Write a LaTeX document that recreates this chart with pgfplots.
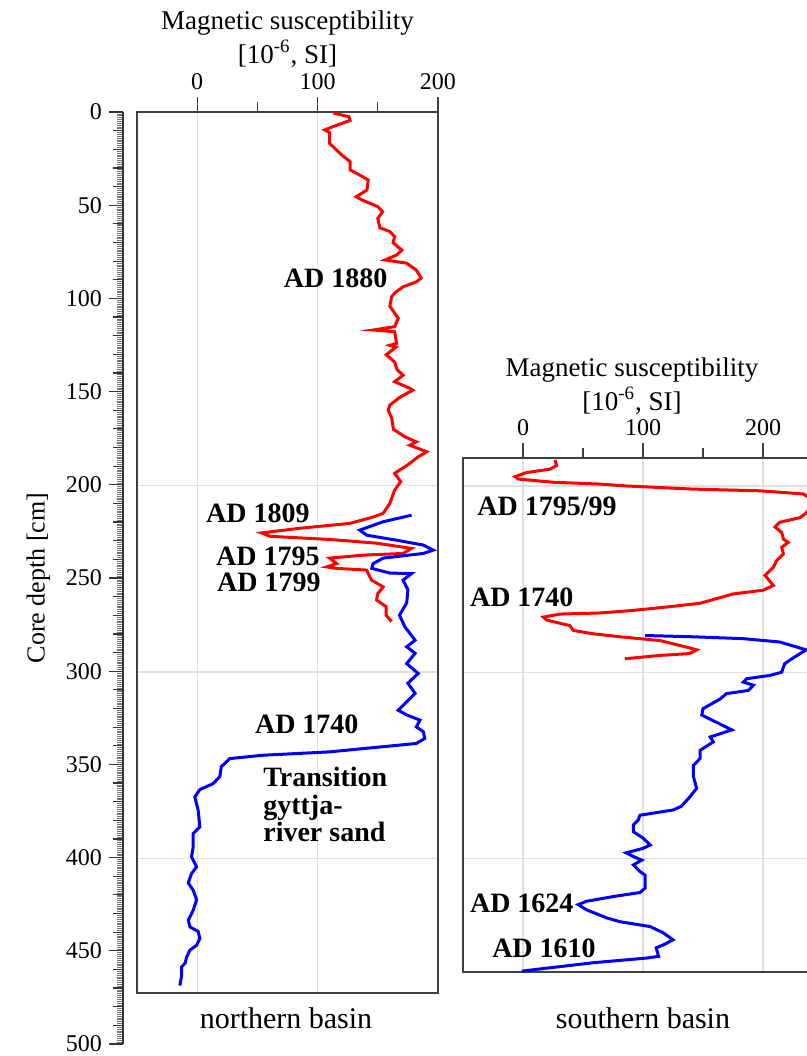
\documentclass[border=0pt]{standalone}
\usepackage{fontspec}
\setmainfont{Liberation Serif}
\usepackage{pgfplots}
\pgfplotsset{compat=1.18}
\pgfplotstableread{
v d
113 0.5
126 2.5
127 4.5
112 8
106 9.6
110 11
110 16.8
120 23
127 26.6
127 31
135 33.8
142 36.4
141 41.8
132 45.4
136.5 47
150 50.7
154 53.4
150 57
151.7 62
160 64
164 66.8
162.7 70
170 74
165.6 76.6
156 79.3
174 81
182 84.7
186 89
182 91
171 93.6
164 97
161.5 99
160 104
167 110.5
164 115
146 116.8
164 117.7
165.6 124
160 125
165 126
157 130
164 134
166 138
171 141
164 144.5
176.6 148
179 149
168 153
160 157
158.7 159.7
161.5 164
163 170
172.5 174
182 176.7
176.6 178.5
190.5 182
183 185
175 189
164 193.6
169 198
164 202.6
160 209.7
154.5 215
146 217
126.8 220.4
85.3 223
53.5 225.5
60.4 227.3
110 229
149 231
178 233.8
171 236.5
138 237.4
110 239
115.8 241.9
107.5 243.7
115.8 244.5
140.7 245.4
144.8 250.8
154.5 254.4
150 258
149 261.5
157 265
157 269.6
161.5 273
}\northred
\pgfplotstableread{
v d
178 216
154.5 219.5
135 224
140.7 226.7
165.6 229.4
187.8 232
196 234.7
187.8 236.5
154.5 239
146 242
145 244.5
160 247
178 247.3
171 250.8
175 256
174 263
168 269.6
172.5 275.8
181 283
174 286.5
181 290
174 295.5
183.6 300.8
175 306
181 311.5
174 316
167 320.5
174 323
185 325.8
182 329.4
187.8 332
189 335.6
182 338.3
110 342.8
54.8 344.6
27 346.4
20 350.8
18.8 356
13.3 359.8
2.2 363
-2 367
0.8 374
2.2 383
-3.3 386.5
-3.3 393.7
-4.7 399
-0.5 404.4
-4.7 408
-7.4 413
-3.3 417
-0.5 422
-3.3 427.6
-7.4 433
-6 436.6
0.8 439
2.2 442.8
-0.5 446.4
-6 449
-8.8 452.7
-10 456
-13 458
-13 463
-14.4 468
}\northblue
\pgfplotstableread{
v d
26.7 186
28 189
22.5 191
3 192.8
-6.7 195
-4 196.3
25 198
64 199
86 200
142 201.7
197.5 202.6
233.6 204.3
245 209
235 215
231 217
214 219.5
210 222
215.6 225
217 228.5
221 230.3
215.6 233
217 236.5
211.4 240
208.6 243.7
201.7 248
208.6 253.5
200 256
175 258
147.5 263
119.7 265
89 267
64 268.2
31 268.8
17 270.4
19.7 272
39 275
42 277.6
58.6 279.4
81 281
114 283
136 286.5
144.7 288
139 290
114 291
85 292.8
}\southred
\pgfplotstableread{
v d
101.7 280.3
142 281
183.6 282
214 283.8
236 288
231 290
224 292.8
218 295.5
215.6 300
206 301.7
186.4 303.5
183.6 305.3
192 307
187.8 309.8
169.7 311.5
164 314.5
150 319.6
149 323
174 331
156 334.8
158.6 337.4
147.5 342
147.5 346.4
142 350
142 356
144.7 362.4
139 367
132 372
125 374
97.5 376.8
96 379.4
92 382
92 385.7
100 389
106 392.8
100 394.6
86 397
92 399
99 400.9
92 403.5
97.5 407
101.7 409
101.7 416
97.5 418.3
75 420.5
53 423
46 424.8
53 427.6
70 432
81 434
106 436.6
117 440
125 443.7
117 446.4
111 448
113 452.6
103 453.5
58.6 456
-1 460.5
}\southblue
\tikzset{lab/.style={font=\bfseries\fontsize{14}{16}\selectfont, inner sep=0pt}}
\begin{document}
\begin{tikzpicture}
\path[use as bounding box] (0,0) rectangle (403.5pt,-528pt);
\clip (0,0) rectangle (403.5pt,-528pt);
\pgfplotsset{
  every axis/.append style={
    /pgf/number format/assume math mode=true,
    tick label style={font=\fontsize{12}{14}\selectfont},
  },
  panel/.style={
    scale only axis, y dir=reverse,
    axis line style={black!75, line width=0.9pt},
    xtick={0,100,200}, minor xtick={50,150},
    xtick pos=right, xticklabel pos=right,
    ytick={200,300,400}, yticklabels={},
    ytick pos=left,
    y tick style={draw=none},
    grid=major, grid style={black!12, line width=0.6pt},
    tick align=outside,
    major tick length=7.5pt, minor tick length=5pt,
    x tick style={black!75, line width=0.7pt},
  },
}
% depth scale
\begin{axis}[
  at={(61.5pt,-56pt)}, anchor=north west,
  scale only axis, width=1pt, height=466pt,
  xmin=0, xmax=1, ymin=0, ymax=500, y dir=reverse,
  axis x line=none, axis y line*=left,
  y axis line style={-, black!80, line width=0.8pt},
  ytick={0,50,...,500},
  minor ytick={0,1,...,500},
  extra y ticks={0,10,...,500}, extra y tick labels={},
  extra y tick style={major tick length=5pt},
  major tick length=7pt, minor tick length=3pt,
  tick align=outside,
  tick style={black!80, line width=0.6pt},
  minor tick style={black!55, line width=0.35pt},
  ylabel={Core depth [cm]},
  ylabel shift={-11pt},
  ylabel style={font=\fontsize{13}{15}\selectfont},
]
\end{axis}
% northern basin
\begin{axis}[panel,
  at={(68.5pt,-56pt)}, anchor=north west,
  width=150.5pt, height=440.5pt,
  xmin=-50, xmax=200, ymin=0, ymax=472,
]
\addplot[red, line width=1.5pt] table[x=v, y=d] {\northred};
\addplot[blue, line width=1.5pt] table[x=v, y=d] {\northblue};
\node[lab] at (axis cs:115,89) {AD 1880};
\node[lab] at (axis cs:50.4,215) {AD 1809};
\node[lab] at (axis cs:58.7,238) {AD 1795};
\node[lab] at (axis cs:59.6,251.8) {AD 1799};
\node[lab] at (axis cs:91,328) {AD 1740};
\node[font=\bfseries\fontsize{14}{13.8}\selectfont, align=left, anchor=west, inner sep=0pt] at (axis cs:54.6,371) {Transition\\gyttja-\\river sand};
\end{axis}
% southern basin
\begin{axis}[panel,
  at={(231.5pt,-229pt)}, anchor=north west,
  width=180pt, height=257pt,
  xmin=-50, xmax=250, ymin=185, ymax=461,
]
\addplot[red, line width=1.5pt] table[x=v, y=d] {\southred};
\addplot[blue, line width=1.5pt] table[x=v, y=d] {\southblue};
\node[lab] at (axis cs:20,211) {AD 1795/99};
\node[lab] at (axis cs:-1,260) {AD 1740};
\node[lab] at (axis cs:-1,424.4) {AD 1624};
\node[lab] at (axis cs:17.5,448.5) {AD 1610};
\end{axis}
% titles
\node[anchor=base, font=\fontsize{13.5}{16}\selectfont] at (143.75pt,-14.5pt) {Magnetic susceptibility};
\node[anchor=base, font=\fontsize{13.5}{16}\selectfont] at (143.75pt,-31.5pt) {[10\textsuperscript{-6}, SI]};
\node[anchor=base, font=\fontsize{13.5}{16}\selectfont] at (316pt,-188.3pt) {Magnetic susceptibility};
\node[anchor=base, font=\fontsize{13.5}{16}\selectfont] at (316pt,-205pt) {[10\textsuperscript{-6}, SI]};
\node[anchor=base, font=\fontsize{15}{18}\selectfont] at (143pt,-514pt) {northern basin};
\node[anchor=base, font=\fontsize{15}{18}\selectfont] at (321.5pt,-514pt) {southern basin};
\end{tikzpicture}
\end{document}
